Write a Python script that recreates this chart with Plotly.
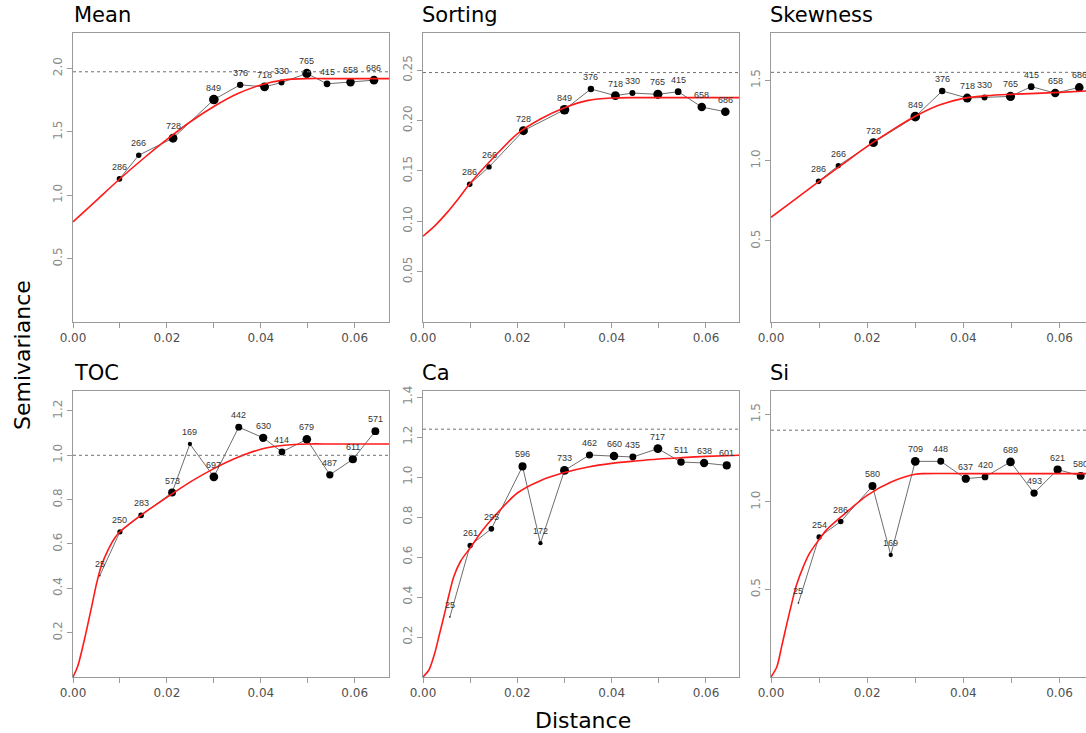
import numpy as np
import plotly.graph_objects as go

W, H = 1086, 733

# ---------------- data ----------------
titles = ["Mean", "Sorting", "Skewness", "TOC", "Ca", "Si"]

lag_top = [0.0099, 0.0140, 0.0213, 0.0300, 0.0356, 0.0408, 0.0444, 0.0498, 0.0541, 0.0591, 0.0641]
lag_bottom = [0.0057, 0.0100, 0.0145, 0.0211, 0.0249, 0.0300, 0.0353, 0.0405, 0.0445, 0.0498,
              0.0547, 0.0596, 0.0644]

npairs_top = [286, 266, 728, 849, 376, 718, 330, 765, 415, 658, 686]
npairs_toc = [25, 250, 283, 573, 169, 697, 442, 630, 414, 679, 487, 611, 571]
npairs_ca = [25, 261, 295, 596, 172, 733, 462, 660, 435, 717, 511, 638, 601]
npairs_si = [25, 254, 286, 580, 169, 709, 448, 637, 420, 689, 493, 621, 580]

gamma_mean = [1.129, 1.316, 1.450, 1.755, 1.871, 1.855, 1.889, 1.961, 1.879, 1.892, 1.908]
gamma_sorting = [0.1367, 0.1540, 0.1900, 0.2108, 0.2314, 0.2248, 0.2274, 0.2261, 0.2287, 0.2135, 0.2088]
gamma_skewness = [0.871, 0.969, 1.112, 1.274, 1.434, 1.390, 1.394, 1.400, 1.461, 1.421, 1.456]
gamma_toc = [0.457, 0.655, 0.729, 0.832, 1.051, 0.903, 1.127, 1.079, 1.015, 1.072, 0.912, 0.982, 1.109]
gamma_ca = [0.300, 0.658, 0.741, 1.053, 0.669, 1.033, 1.110, 1.105, 1.100, 1.142, 1.075, 1.070, 1.058]
gamma_si = [0.423, 0.800, 0.888, 1.091, 0.697, 1.232, 1.232, 1.133, 1.143, 1.229, 1.051, 1.185, 1.149]

# sample variance (dotted line)
sill_values = [1.974, 0.2477, 1.550, 1.000, 1.239, 1.410]

# fitted model curves
model_x_mean = [0, 0.005, 0.01, 0.015, 0.02, 0.025, 0.03, 0.035, 0.04, 0.045, 0.05, 0.055, 0.06, 0.0675]
model_y_mean = [0.79, 0.96, 1.13, 1.29, 1.44, 1.58, 1.70, 1.80, 1.87, 1.91, 1.92, 1.92, 1.92, 1.92]

model_x_sorting = [0, 0.0025, 0.005, 0.0075, 0.01, 0.015, 0.02, 0.025, 0.03, 0.035, 0.04, 0.045,
                   0.05, 0.06, 0.0675]
model_y_sorting = [0.0852, 0.0955, 0.1081, 0.1225, 0.1377, 0.1636, 0.1869, 0.2018, 0.2128, 0.2201,
                   0.2224, 0.2228, 0.2228, 0.2228, 0.2228]

model_x_skewness = [0, 0.005, 0.01, 0.015, 0.02, 0.025, 0.03, 0.035, 0.04, 0.045, 0.05, 0.055, 0.06, 0.0655]
model_y_skewness = [0.647, 0.759, 0.871, 0.980, 1.089, 1.187, 1.276, 1.346, 1.388, 1.405, 1.413,
                    1.419, 1.425, 1.434]

model_x_toc = [0, 0.001, 0.0025, 0.004, 0.005, 0.006, 0.0075, 0.009, 0.01, 0.015, 0.02, 0.025,
               0.03, 0.035, 0.04, 0.045, 0.05, 0.055, 0.06, 0.0675]
model_y_toc = [0, 0.048, 0.175, 0.32, 0.42, 0.50, 0.575, 0.63, 0.655, 0.738, 0.81, 0.88, 0.94,
               0.99, 1.027, 1.045, 1.051, 1.051, 1.051, 1.051]

model_x_ca = [0, 0.00125, 0.0025, 0.0035, 0.0045, 0.0055, 0.0065, 0.008, 0.01, 0.0125, 0.015,
              0.02, 0.025, 0.03, 0.035, 0.04, 0.045, 0.05, 0.055, 0.06, 0.0675]
model_y_ca = [0, 0.035, 0.12, 0.215, 0.31, 0.41, 0.50, 0.58, 0.645, 0.73, 0.80, 0.92, 0.983,
              1.022, 1.05, 1.068, 1.08, 1.09, 1.097, 1.103, 1.109]

model_x_si = [0, 0.0012, 0.0022, 0.0033, 0.0043, 0.0053, 0.0067, 0.008, 0.01, 0.0115, 0.015,
              0.02, 0.025, 0.03, 0.032, 0.04, 0.05, 0.06, 0.0655]
model_y_si = [0, 0.057, 0.172, 0.305, 0.42, 0.525, 0.629, 0.706, 0.785, 0.839, 0.925, 1.038,
              1.114, 1.158, 1.162, 1.162, 1.162, 1.162, 1.162]

y_ticks_mean = [0.5, 1.0, 1.5, 2.0]
y_ticks_sorting = [0.05, 0.10, 0.15, 0.20, 0.25]
y_ticks_skewness = [0.5, 1.0, 1.5]
y_ticks_toc = [0.2, 0.4, 0.6, 0.8, 1.0, 1.2]
y_ticks_ca = [0.2, 0.4, 0.6, 0.8, 1.0, 1.2, 1.4]
y_ticks_si = [0.5, 1.0, 1.5]
y_tick_fmt = ["{:.1f}", "{:.2f}", "{:.1f}", "{:.1f}", "{:.1f}", "{:.1f}"]

x_ticks = [0.00, 0.01, 0.02, 0.03, 0.04, 0.05, 0.06]
x_tick_labels = ["0.00", "", "0.02", "", "0.04", "", "0.06"]

# ---------------- layout geometry (pixels) ----------------
col_px = [(73, 389, 0.0673), (423, 739, 0.0670), (771, 1086, 0.0655)]
row_px = [(33, 322), (391, 677)]
y_ranges = [(0, 2.28), (0, 0.287), (-0.005, 1.795), (0, 1.29), (0, 1.43), (0, 1.634)]

panels = [
    (lag_top, gamma_mean, npairs_top, model_x_mean, model_y_mean, y_ticks_mean),
    (lag_top, gamma_sorting, npairs_top, model_x_sorting, model_y_sorting, y_ticks_sorting),
    (lag_top, gamma_skewness, npairs_top, model_x_skewness, model_y_skewness, y_ticks_skewness),
    (lag_bottom, gamma_toc, npairs_toc, model_x_toc, model_y_toc, y_ticks_toc),
    (lag_bottom, gamma_ca, npairs_ca, model_x_ca, model_y_ca, y_ticks_ca),
    (lag_bottom, gamma_si, npairs_si, model_x_si, model_y_si, y_ticks_si),
]

fig = go.Figure()
annotations = []
shapes = []
AX = "#9a9a9a"

for i, (lx, gy, npr, mx, my, yt) in enumerate(panels):
    r, c = divmod(i, 3)
    n = i + 1
    xa = "x" if n == 1 else f"x{n}"
    ya = "y" if n == 1 else f"y{n}"
    x0p, x1p, xmax = col_px[c]
    y0p, y1p = row_px[r]

    sizes = [0.33 * np.sqrt(v) for v in npr]

    fig.add_trace(go.Scatter(x=lx, y=gy, mode="lines", line=dict(color="#6e6e6e", width=1),
                             xaxis=xa, yaxis=ya, showlegend=False, hoverinfo="skip"))
    fig.add_trace(go.Scatter(x=lx, y=gy, mode="markers",
                             marker=dict(color="black", size=sizes, opacity=1, line=dict(width=0)),
                             xaxis=xa, yaxis=ya, showlegend=False))
    fig.add_trace(go.Scatter(x=mx, y=my, mode="lines",
                             line=dict(color="#ff1a1a", width=1.6, shape="spline", smoothing=0.8),
                             xaxis=xa, yaxis=ya, showlegend=False, hoverinfo="skip"))

    for xv, yv, cnt in zip(lx, gy, npr):
        annotations.append(dict(x=xv, y=yv, xref=xa, yref=ya, text=str(cnt), showarrow=False,
                                yshift=12, yanchor="middle", xanchor="center",
                                font=dict(family="Liberation Sans, Arial", size=9, color="#333")))

    shapes.append(dict(type="line", xref=f"{xa} domain", yref=ya, x0=0, x1=1,
                       y0=sill_values[i], y1=sill_values[i],
                       line=dict(color="#707070", width=1, dash="dot")))

    dom_x = [x0p / W, x1p / W]
    dom_y = [1 - y1p / H, 1 - y0p / H]
    mirror = c < 2
    fig.layout[("xaxis" if n == 1 else f"xaxis{n}")] = dict(
        domain=dom_x, range=[0, xmax], anchor=ya, tickvals=x_ticks, ticktext=x_tick_labels,
        ticks="outside", ticklen=5, tickcolor=AX, showline=True, linecolor=AX, linewidth=1,
        mirror=True, showgrid=False, zeroline=False, automargin=False,
        tickfont=dict(family="DejaVu Sans", size=12, color="#505050"))
    fig.layout[("yaxis" if n == 1 else f"yaxis{n}")] = dict(
        domain=dom_y, range=list(y_ranges[i]), anchor=xa, tickvals=yt,
        ticktext=[y_tick_fmt[i].format(v) for v in yt], tickangle=-90,
        ticks="outside", ticklen=5, tickcolor=AX, showline=True, linecolor=AX, linewidth=1,
        mirror=mirror, showgrid=False, zeroline=False, automargin=False,
        tickfont=dict(family="DejaVu Sans", size=12, color="#8a8a8a"))

    title_x = [72, 420, 768][c]
    title_y = [15, 373][r]
    annotations.append(dict(x=title_x / W, y=1 - title_y / H, xref="paper", yref="paper",
                            text=titles[i], showarrow=False, xanchor="left", yanchor="middle",
                            font=dict(family="DejaVu Sans", size=21, color="black")))

annotations.append(dict(x=22 / W, y=1 - 355 / H, xref="paper", yref="paper", text="Semivariance",
                        textangle=-90, showarrow=False, xanchor="center", yanchor="middle",
                        font=dict(family="DejaVu Sans", size=22, color="black")))
annotations.append(dict(x=583 / W, y=1 - 720 / H, xref="paper", yref="paper", text="Distance",
                        showarrow=False, xanchor="center", yanchor="middle",
                        font=dict(family="DejaVu Sans", size=22, color="black")))

fig.update_layout(width=W, height=H, margin=dict(l=0, r=0, t=0, b=0, autoexpand=False),
                  paper_bgcolor="white", plot_bgcolor="white",
                  annotations=annotations, shapes=shapes, showlegend=False)

fig.write_html("out.html", config={"displayModeBar": False},
               post_script="document.body.style.margin='0';document.body.style.overflow='hidden';")
